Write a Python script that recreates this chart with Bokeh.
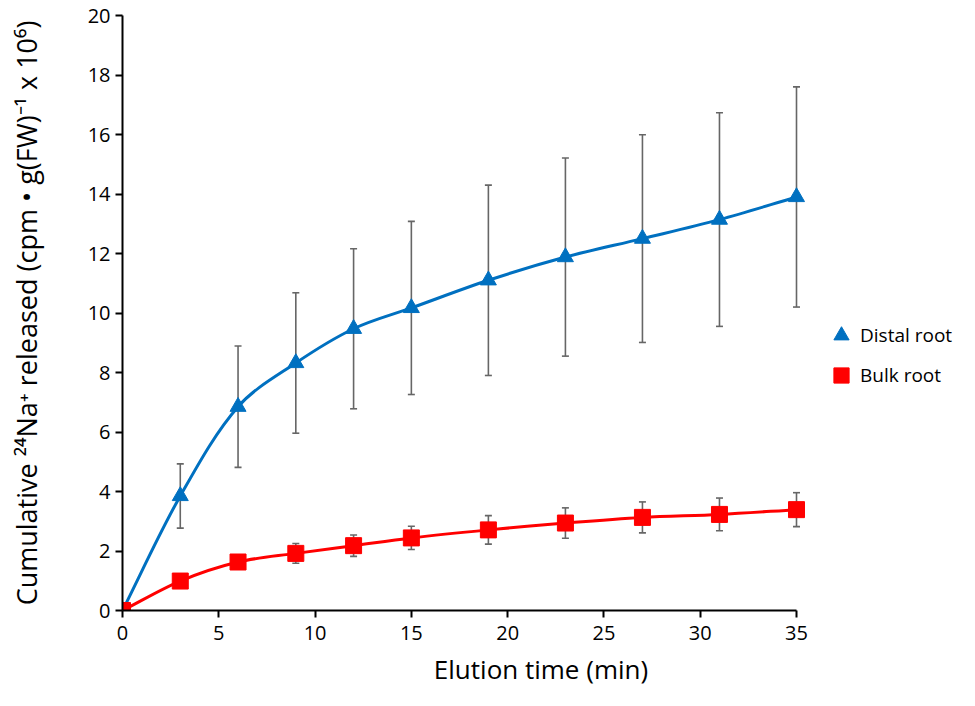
import math
from bokeh.plotting import figure
from bokeh.models import (Range1d, FixedTicker, Whisker, TeeHead, ColumnDataSource,
                          Legend, LegendItem)
from bokeh.embed import file_html
from bokeh.resources import INLINE

# ---- data ----
time_min = [0, 3, 6, 9, 12, 15, 19, 23, 27, 31, 35]
distal = [0, 3.85, 6.85, 8.32, 9.47, 10.17, 11.1, 11.88, 12.50, 13.14, 13.90]
distal_err = [0, 1.08, 2.04, 2.36, 2.69, 2.91, 3.20, 3.33, 3.49, 3.59, 3.70]
bulk = [0, 0.99, 1.63, 1.92, 2.18, 2.44, 2.71, 2.94, 3.13, 3.23, 3.39]
bulk_err = [0, 0.12, 0.20, 0.33, 0.36, 0.39, 0.48, 0.51, 0.52, 0.55, 0.57]
x_ticks = [0, 5, 10, 15, 20, 25, 30, 35]
y_ticks = [0, 2, 4, 6, 8, 10, 12, 14, 16, 18, 20]

BLUE = "#0070C0"
RED = "#FF0000"
GREY = "#666666"
FONT = "Open Sans"

W, H = 959, 690
LEFT, RIGHT, TOP, BOTTOM = 122, 0, 15, 80
X_END = 35 * (W - LEFT - RIGHT) / (796 - 122)   # keep 35 at the reference's position
PX_X = (W - LEFT - RIGHT) / X_END
PX_Y = (H - TOP - BOTTOM) / 20


def smooth_segments(xs, ys, t=1 / 3):
    """Bezier control points for an Excel-like smoothed line through the data."""
    n = len(xs)

    def dist(i, j):
        return math.hypot((xs[j] - xs[i]) * PX_X, (ys[j] - ys[i]) * PX_Y)

    def ctrl(i):
        ip, inx = max(i - 1, 0), min(i + 1, n - 1)
        d01, d12 = dist(ip, i), dist(i, inx)
        s = d01 + d12
        fa, fb = (t * d01 / s, t * d12 / s) if s > 0 else (0, 0)
        tx, ty = xs[inx] - xs[ip], ys[inx] - ys[ip]
        return (xs[i] - fa * tx, ys[i] - fa * ty), (xs[i] + fb * tx, ys[i] + fb * ty)

    d = dict(x0=[], y0=[], x1=[], y1=[], cx0=[], cy0=[], cx1=[], cy1=[])
    for i in range(n - 1):
        _, fwd = ctrl(i)
        back, _ = ctrl(i + 1)
        d["x0"].append(xs[i]); d["y0"].append(ys[i])
        d["x1"].append(xs[i + 1]); d["y1"].append(ys[i + 1])
        d["cx0"].append(fwd[0]); d["cy0"].append(fwd[1])
        d["cx1"].append(back[0]); d["cy1"].append(back[1])
    return ColumnDataSource(d)


p = figure(width=W, height=H, output_backend="svg", toolbar_location=None,
           x_range=Range1d(0, X_END), y_range=Range1d(0, 20),
           min_border_left=LEFT, min_border_right=RIGHT, min_border_top=TOP,
           min_border_bottom=BOTTOM)
p.outline_line_color = None
p.xgrid.visible = False
p.ygrid.visible = False
p.background_fill_color = "white"

# axes
p.xaxis.bounds = (0, 35)
p.xaxis.ticker = FixedTicker(ticks=x_ticks)
p.yaxis.ticker = FixedTicker(ticks=y_ticks)
for ax in (p.xaxis[0], p.yaxis[0]):
    ax.axis_line_width = 2
    ax.axis_line_color = "black"
    ax.major_tick_line_width = 2
    ax.major_tick_line_color = "black"
    ax.major_tick_out = 7
    ax.major_tick_in = 0
    ax.minor_tick_line_color = None
    ax.major_label_text_font = FONT
    ax.major_label_text_font_size = "20px"
    ax.major_label_text_color = "black"
    ax.axis_label_text_font = FONT
    ax.axis_label_text_font_style = "normal"
    ax.axis_label_text_color = "black"

p.xaxis.axis_label = "Elution time (min)"
p.xaxis.axis_label_text_font_size = "26px"
p.xaxis.major_label_standoff = 8
p.xaxis.axis_label_standoff = 8
p.yaxis.axis_label = "Cumulative \u00b2\u2074Na\u207a released (cpm \u2022 g(FW)\u207b\u00b9 x 10\u2076)"
p.yaxis.axis_label_text_font_size = "27px"
p.yaxis.major_label_standoff = 5
p.yaxis.axis_label_standoff = 40

# sources
src_d = ColumnDataSource(dict(x=time_min, y=distal,
                              lo=[v - e for v, e in zip(distal, distal_err)],
                              hi=[v + e for v, e in zip(distal, distal_err)]))
src_b = ColumnDataSource(dict(x=time_min, y=bulk,
                              lo=[v - e for v, e in zip(bulk, bulk_err)],
                              hi=[v + e for v, e in zip(bulk, bulk_err)]))

# error bars
for src in (src_d, src_b):
    w = Whisker(source=src, base="x", lower="lo", upper="hi",
                line_color=GREY, line_width=1.6,
                upper_head=TeeHead(size=7, line_color=GREY, line_width=1.6),
                lower_head=TeeHead(size=7, line_color=GREY, line_width=1.6))
    p.add_layout(w)

# smoothed lines
p.bezier(x0="x0", y0="y0", x1="x1", y1="y1", cx0="cx0", cy0="cy0", cx1="cx1",
         cy1="cy1", source=smooth_segments(time_min, distal), line_color=BLUE,
         line_width=3)
r_d = p.scatter("x", "y", source=src_d, marker="triangle", size=16,
                fill_color=BLUE, line_color=BLUE)

p.bezier(x0="x0", y0="y0", x1="x1", y1="y1", cx0="cx0", cy0="cy0", cx1="cx1",
         cy1="cy1", source=smooth_segments(time_min, bulk), line_color=RED,
         line_width=3)
r_b = p.scatter("x", "y", source=src_b, marker="square", size=16,
                fill_color=RED, line_color=RED)

# legend (frame coordinates: pixels from the frame's bottom-left corner)
legend = Legend(items=[LegendItem(label="Distal root", renderers=[r_d]),
                       LegendItem(label="Bulk root", renderers=[r_b])],
                location=(700, 610 - 394), glyph_width=38, glyph_height=38,
                spacing=2, label_standoff=0, padding=0, margin=0,
                border_line_alpha=0, background_fill_alpha=0,
                label_text_font=FONT, label_text_font_size="19px",
                label_text_color="black")
p.add_layout(legend, "center")

open("out.html", "w").write(file_html(p, INLINE))
